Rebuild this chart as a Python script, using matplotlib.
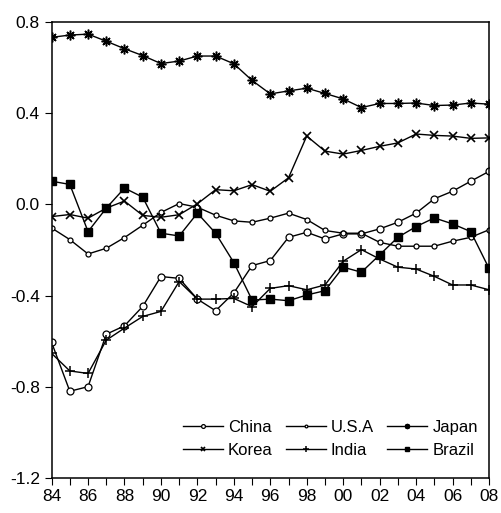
import matplotlib
matplotlib.use("Agg")
import matplotlib.pyplot as plt
import numpy as np

plt.rcParams['font.family'] = ['Liberation Sans Narrow', 'Liberation Sans', 'DejaVu Sans']

years = list(range(1984, 2009))

china = [-0.605, -0.819, -0.799, -0.569, -0.532, -0.447, -0.316, -0.324, -0.415, -0.466,
         -0.388, -0.268, -0.246, -0.144, -0.122, -0.151, -0.129, -0.129, -0.107, -0.078,
         -0.038, 0.025, 0.058, 0.102, 0.145]
usa = [-0.103, -0.154, -0.217, -0.192, -0.145, -0.091, -0.035, 0.004, -0.012, -0.047,
       -0.072, -0.078, -0.060, -0.038, -0.066, -0.114, -0.126, -0.126, -0.166, -0.183,
       -0.183, -0.183, -0.161, -0.144, -0.111]
japan = [0.733, 0.743, 0.747, 0.716, 0.683, 0.653, 0.618, 0.629, 0.651, 0.651,
         0.617, 0.544, 0.485, 0.498, 0.510, 0.487, 0.463, 0.425, 0.443, 0.443,
         0.445, 0.434, 0.436, 0.445, 0.440]
korea = [-0.053, -0.044, -0.060, -0.016, 0.015, -0.048, -0.056, -0.045, 0.003, 0.065,
         0.060, 0.087, 0.058, 0.117, 0.300, 0.234, 0.221, 0.237, 0.255, 0.270,
         0.309, 0.303, 0.300, 0.290, 0.292]
india = [-0.653, -0.730, -0.741, -0.595, -0.542, -0.491, -0.469, -0.338, -0.415, -0.415,
         -0.412, -0.448, -0.368, -0.356, -0.374, -0.353, -0.249, -0.198, -0.239, -0.275,
         -0.283, -0.315, -0.353, -0.353, -0.374]
brazil = [0.102, 0.088, -0.119, -0.016, 0.072, 0.032, -0.126, -0.138, -0.038, -0.126,
          -0.255, -0.419, -0.415, -0.422, -0.397, -0.378, -0.275, -0.297, -0.221, -0.144,
          -0.097, -0.059, -0.085, -0.119, -0.280]

xtick_years = list(range(1984, 2009, 2))
xtick_labels = ["84", "86", "88", "90", "92", "94", "96", "98", "00", "02", "04", "06", "08"]
ytick_vals = [-1.2, -0.8, -0.4, 0.0, 0.4, 0.8]
ytick_labels = ["-1.2", "-0.8", "-0.4", "0.0", "0.4", "0.8"]

fig = plt.figure(figsize=(5.01, 5.13), dpi=100)
ax = fig.add_axes([0.103, 0.068, 0.873, 0.889])

lw = 1.0
ax.plot(years, china, color='black', lw=lw, marker='o', ms=5, mfc='white', mec='black', mew=0.9, label='China')
ax.plot(years, usa, color='black', lw=lw, marker='o', ms=3.6, mfc='white', mec='black', mew=0.9, label='U.S.A')
ax.plot(years, japan, color='black', lw=lw, marker=(8, 2, 0), ms=7, mec='black', mew=1.1, label='Japan')
ax.plot(years, korea, color='black', lw=lw, marker='x', ms=6, mec='black', mew=1.2, label='Korea')
ax.plot(years, india, color='black', lw=lw, marker='+', ms=7.5, mec='black', mew=1.1, label='India')
ax.plot(years, brazil, color='black', lw=lw, marker='s', ms=5.5, mfc='black', mec='black', label='Brazil')

ax.set_xlim(1984, 2008)
ax.set_ylim(-1.2, 0.8)
ax.set_xticks(list(range(1984, 2009)), minor=True)
ax.set_xticks(xtick_years)
ax.set_xticklabels(xtick_labels)
ax.set_yticks(ytick_vals)
ax.set_yticklabels(ytick_labels)
ax.tick_params(axis='both', which='both', direction='out', length=5, width=0.8, labelsize=12.5, color='black')
ax.tick_params(axis='x', which='both', pad=3)
for s in ax.spines.values():
    s.set_linewidth(1.1)
    s.set_color('black')

handles, labels = ax.get_legend_handles_labels()
order = [0, 3, 1, 4, 2, 5]
leg = ax.legend([handles[i] for i in order], [labels[i] for i in order], ncol=3, frameon=False,
                fontsize=12, markerscale=0.55, handlelength=2.4, handletextpad=0.3,
                columnspacing=0.8, labelspacing=0.45, loc='lower right',
                bbox_to_anchor=(0.99, 0.03), borderaxespad=0)

fig.savefig('out.png', dpi=100)
